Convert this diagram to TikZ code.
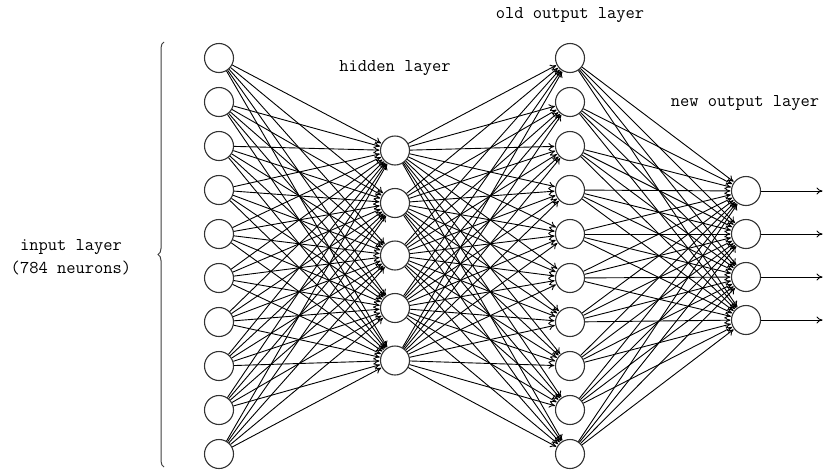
\documentclass[tikz,border=0pt]{standalone}
\usepackage{fontspec}
\usetikzlibrary{decorations.pathreplacing,arrows.meta}
\begin{document}
\begin{tikzpicture}[x=1pt,y=-1pt,
  neuron/.style={circle,draw=black!80,line width=1.1pt,minimum size=29pt,inner sep=0pt,fill=white},
  conn/.style={-{To[length=6pt,width=7pt]},line width=0.9pt,shorten >=0.5pt},
  lbl/.style={font=\fontsize{18}{23}\selectfont\ttfamily,align=center}]
\fill[white] (0,0) rectangle (826,469);
\useasboundingbox (0,0) rectangle (826,469);
\foreach \i in {1,...,10} \node[neuron] (I\i) at (219,{58+(\i-1)*44}) {};
\foreach \i in {1,...,5} \node[neuron] (H\i) at (395,{150.5+(\i-1)*52.5}) {};
\foreach \i in {1,...,10} \node[neuron] (O\i) at (570,{58+(\i-1)*44}) {};
\foreach \i in {1,...,4} \node[neuron] (N\i) at (746,{191+(\i-1)*43}) {};
\foreach \i in {1,...,4} \coordinate (E\i) at (823,{191+(\i-1)*43});
\foreach \i in {1,...,10} \foreach \j in {1,...,5} \draw[conn] (I\i) -- (H\j);
\foreach \i in {1,...,5} \foreach \j in {1,...,10} \draw[conn] (H\i) -- (O\j);
\foreach \i in {1,...,10} \foreach \j in {1,...,4} \draw[conn] (O\i) -- (N\j);
\foreach \i in {1,...,4} \draw[conn] (N\i) -- (E\i);
\coordinate (B1) at (164,467);
\coordinate (B2) at (164,42);
\draw[line width=1pt,black!75,decorate,decoration={brace,amplitude=6pt}] (B1) -- (B2);
\node[lbl] (inl) at (71,257) {input layer\\(784 neurons)};
\node[lbl] (hl) at (395,68) {hidden layer};
\node[lbl] (ol) at (570,15) {old output layer};
\node[lbl] (nl) at (745,103) {new output layer};
\end{tikzpicture}
\end{document}
